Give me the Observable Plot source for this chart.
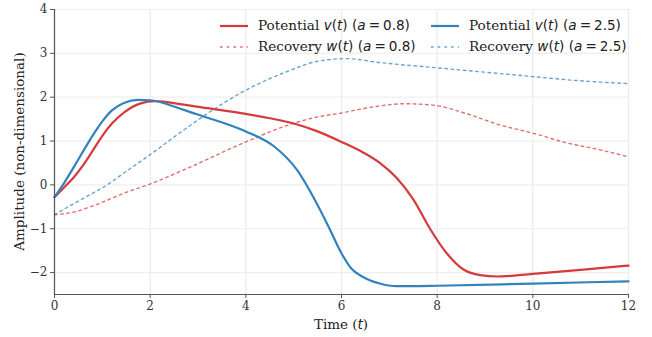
<!DOCTYPE html>
<html>
<head>
<meta charset="utf-8">
<script src="https://cdn.jsdelivr.net/npm/d3@7"></script>
<script src="https://cdn.jsdelivr.net/npm/@observablehq/plot@0.6"></script>
<style>
  html, body { margin: 0; padding: 0; background: #fff; }
  #wrap { position: relative; width: 652px; height: 337px; }
  .leg { position: absolute; font-family: "DejaVu Serif", serif; font-size: 13.6px; color: #222; white-space: nowrap; line-height: 1; }
  .m { font-family: "DejaVu Sans", sans-serif; }
  .mi { font-family: "DejaVu Sans", sans-serif; font-style: italic; }
  .sp { display: inline-block; width: 0.22em; }
</style>
</head>
<body>
<div id="wrap"></div>
<script>
// ---- data ----
const xTicks = [0, 2, 4, 6, 8, 10, 12];
const yTicks = [-2, -1, 0, 1, 2, 3, 4];
const xDomain = [0, 12];
const yDomain = [-2.5, 4];

const tV08 = [0, 0.2, 0.4, 0.6, 0.8, 1.0, 1.2, 1.45, 1.8, 2.1, 2.7, 3.2, 4, 4.5, 5, 5.5, 6, 6.45, 6.8, 7.15, 7.5, 7.85, 8.2, 8.55, 8.9, 9.25, 10, 11, 12];
const vV08 = [-0.28, -0.06, 0.17, 0.45, 0.78, 1.12, 1.40, 1.65, 1.86, 1.91, 1.83, 1.75, 1.62, 1.52, 1.40, 1.22, 0.98, 0.74, 0.50, 0.16, -0.33, -1.0, -1.56, -1.93, -2.06, -2.09, -2.03, -1.94, -1.84];

const tV25 = [0, 0.2, 0.4, 0.6, 0.8, 1.0, 1.2, 1.45, 1.75, 2.0, 2.7, 3.2, 3.6, 4, 4.6, 5.07, 5.48, 5.75, 6, 6.2, 6.45, 6.8, 7.15, 8, 10, 12];
const vV25 = [-0.28, 0.04, 0.40, 0.77, 1.13, 1.45, 1.70, 1.87, 1.94, 1.93, 1.71, 1.53, 1.39, 1.22, 0.87, 0.34, -0.42, -1.0, -1.56, -1.9, -2.1, -2.25, -2.31, -2.30, -2.25, -2.20];

const tW08 = [0, 0.4, 0.75, 1.1, 1.45, 2, 2.7, 4, 4.9, 5.5, 6, 6.45, 6.8, 7.3, 7.9, 8.6, 9.3, 10, 10.7, 11.4, 12];
const vW08 = [-0.68, -0.62, -0.50, -0.35, -0.19, 0.02, 0.34, 0.98, 1.37, 1.55, 1.64, 1.74, 1.80, 1.85, 1.82, 1.63, 1.37, 1.18, 0.96, 0.80, 0.64];

const tW25 = [0, 0.4, 0.75, 1.1, 1.45, 2, 2.7, 3.2, 4, 4.9, 5.5, 6.1, 6.8, 8, 9, 10, 10.8, 12];
const vW25 = [-0.68, -0.43, -0.22, 0.0, 0.27, 0.69, 1.25, 1.63, 2.16, 2.60, 2.82, 2.88, 2.79, 2.67, 2.57, 2.47, 2.39, 2.31];

const RED = "#d63a3a";
const BLUE = "#3282bd";

const toRows = (ts, vs) => ts.map((t, i) => ({t, v: vs[i]}));

const W = 652, H = 337, ML = 54, MR = 24, MT = 9, MB = 43;

const chart = Plot.plot({
  width: W, height: H,
  marginLeft: ML, marginRight: MR, marginTop: MT, marginBottom: MB,
  style: {fontFamily: "DejaVu Serif, serif", fontSize: "12px", background: "#fff", color: "#333"},
  x: {domain: xDomain, label: null},
  y: {domain: yDomain, label: null},
  marks: [
    Plot.gridX(xTicks, {stroke: "#ebebeb", strokeOpacity: 1, strokeWidth: 1.2}),
    Plot.gridY(yTicks, {stroke: "#efefef", strokeOpacity: 1, strokeWidth: 1.2}),
    Plot.line(toRows(tW08, vW08), {x: "t", y: "v", curve: "monotone-x", stroke: RED, strokeOpacity: 0.72, strokeWidth: 1.4, strokeDasharray: "2.6,3.6"}),
    Plot.line(toRows(tW25, vW25), {x: "t", y: "v", curve: "monotone-x", stroke: BLUE, strokeOpacity: 0.72, strokeWidth: 1.4, strokeDasharray: "2.6,3.6"}),
    Plot.line(toRows(tV08, vV08), {x: "t", y: "v", curve: "monotone-x", stroke: RED, strokeWidth: 2.2}),
    Plot.line(toRows(tV25, vV25), {x: "t", y: "v", curve: "monotone-x", stroke: BLUE, strokeWidth: 2.2}),
    Plot.ruleX([xDomain[0]], {stroke: "#555", strokeWidth: 1.2}),
    Plot.ruleY([yDomain[0]], {stroke: "#555", strokeWidth: 1.2}),
    Plot.axisX({ticks: xTicks, tickSize: 4, tickPadding: 3, label: null, stroke: "#555", fill: "#333"}),
    Plot.axisY({ticks: yTicks, tickSize: 4, tickPadding: 3, label: null, stroke: "#555", fill: "#333",
      tickFormat: d => d < 0 ? "\u2212" + (-d) : String(d)})
  ]
});

const wrap = document.getElementById("wrap");
wrap.appendChild(chart);

// axis titles
const svg = d3.select(chart);
const xt = svg.append("text")
  .attr("x", (ML + W - MR) / 2).attr("y", 329)
  .attr("text-anchor", "middle")
  .style("font-family", "DejaVu Serif, serif").style("font-size", "13.5px").attr("fill", "#222");
xt.append("tspan").text("Time (");
xt.append("tspan").text("t").style("font-family", "DejaVu Sans, sans-serif").style("font-style", "italic");
xt.append("tspan").text(")");

svg.append("text")
  .attr("transform", `translate(19,${(MT + H - MB) / 2}) rotate(-90)`)
  .attr("text-anchor", "middle").attr("dy", "0.35em")
  .style("font-family", "DejaVu Serif, serif").style("font-size", "13.5px").attr("fill", "#222")
  .text("Amplitude (non-dimensional)");

// legend (HTML overlay inside plot area)
const legendItems = [
  {label: "Potential", sym: "v", a: "0.8", color: RED, dash: false, x: 220, y: 26},
  {label: "Potential", sym: "v", a: "2.5", color: BLUE, dash: false, x: 431, y: 26},
  {label: "Recovery", sym: "w", a: "0.8", color: RED, dash: true, x: 220, y: 47},
  {label: "Recovery", sym: "w", a: "2.5", color: BLUE, dash: true, x: 431, y: 47}
];
for (const it of legendItems) {
  const s = document.createElementNS("http://www.w3.org/2000/svg", "svg");
  s.setAttribute("width", 30); s.setAttribute("height", 6);
  s.style.position = "absolute"; s.style.left = it.x + "px"; s.style.top = (it.y - 3) + "px";
  const ln = document.createElementNS("http://www.w3.org/2000/svg", "line");
  ln.setAttribute("x1", 0); ln.setAttribute("x2", 28); ln.setAttribute("y1", 3); ln.setAttribute("y2", 3);
  ln.setAttribute("stroke", it.color);
  ln.setAttribute("stroke-width", it.dash ? 1.4 : 2.2);
  if (it.dash) { ln.setAttribute("stroke-dasharray", "2.6,4.1"); ln.setAttribute("stroke-opacity", 0.72); }
  s.appendChild(ln);
  wrap.appendChild(s);
  const d = document.createElement("div");
  d.className = "leg";
  d.style.left = (it.x + 38) + "px";
  d.style.top = (it.y - 7.5) + "px";
  d.innerHTML = `${it.label} <span class="mi">${it.sym}</span><span class="m">(</span><span class="mi">t</span><span class="m">)</span> <span class="m">(</span><span class="mi">a</span><span class="sp"></span><span class="m">=</span><span class="sp"></span><span class="m">${it.a})</span>`;
  wrap.appendChild(d);
}
</script>
</body>
</html>
